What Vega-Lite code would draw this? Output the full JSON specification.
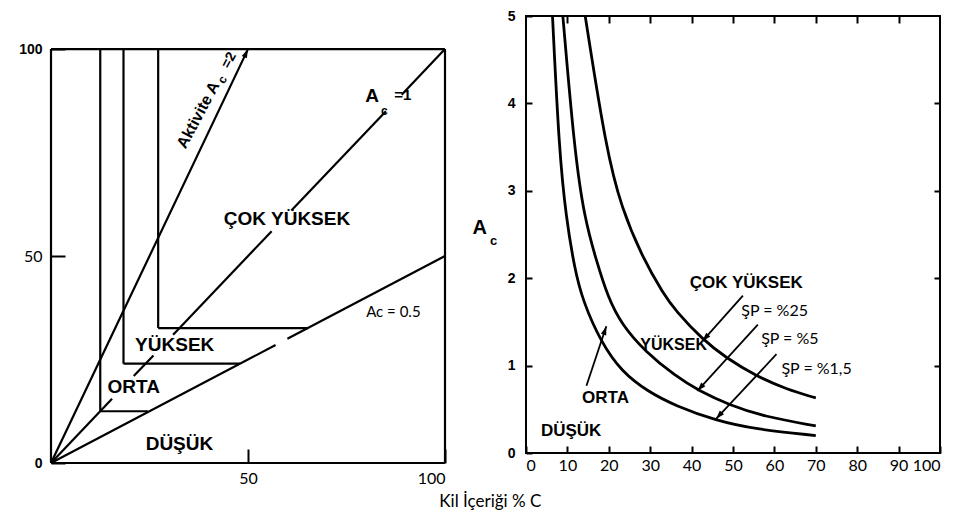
{
  "$schema": "https://vega.github.io/schema/vega-lite/v6.json",
  "padding": {"left": 18, "top": 8, "right": 0, "bottom": 5},
  "bounds": "flush",
  "spacing": 81,
  "title": {"text": "Kil İçeriği % C", "orient": "bottom", "anchor": "middle", "font": "Lato", "fontSize": 17, "fontWeight": "normal", "color": "black", "offset": 8, "dx": 10},
  "config": {
    "font": "Liberation Sans",
    "view": {"stroke": "black", "strokeWidth": 2},
    "axis": {"labelColor": "black", "tickColor": "black", "grid": false, "domain": false, "title": null}
  },
  "datasets": {
    "leftLines": [
      {"x": 0, "y": 0, "x2": 100, "y2": 0},
      {"x": 0, "y": 0, "x2": 0, "y2": 100},
      {"x": 0, "y": 100, "x2": 100, "y2": 100},
      {"x": 100, "y": 0, "x2": 100, "y2": 100},
      {"x": 0, "y": 0, "x2": 50, "y2": 100},
      {"x": 0, "y": 0, "x2": 15.5, "y2": 15.5},
      {"x": 21, "y": 21, "x2": 26, "y2": 26},
      {"x": 31, "y": 31, "x2": 56, "y2": 56},
      {"x": 61, "y": 61, "x2": 85, "y2": 85},
      {"x": 89, "y": 89, "x2": 100, "y2": 100},
      {"x": 0, "y": 0, "x2": 57, "y2": 28.5},
      {"x": 60, "y": 30, "x2": 100, "y2": 50},
      {"x": 12.5, "y": 12.5, "x2": 12.5, "y2": 100},
      {"x": 12.5, "y": 12.5, "x2": 24.6, "y2": 12.5},
      {"x": 18.4, "y": 24, "x2": 18.4, "y2": 100},
      {"x": 18.4, "y": 24, "x2": 48, "y2": 24},
      {"x": 27.2, "y": 32.6, "x2": 27.2, "y2": 100},
      {"x": 27.2, "y": 32.6, "x2": 65.2, "y2": 32.6}
    ],
    "leftArrow": [{"x": 50, "y": 100}],
    "leftZones": [
      {"x": 59.9, "y": 59, "label": "ÇOK YÜKSEK"},
      {"x": 31.4, "y": 28.4, "label": "YÜKSEK"},
      {"x": 21, "y": 18.4, "label": "ORTA"},
      {"x": 32.6, "y": 4.7, "label": "DÜŞÜK"}
    ],
    "leftA": [{"x": 81.5, "y": 88.6, "label": "A"}],
    "leftSubC": [{"x": 84.6, "y": 85, "label": "c"}],
    "leftEq1": [{"x": 89.3, "y": 89, "label": "=1"}],
    "leftAc05": [{"x": 86.9, "y": 36.5, "label": "Ac = 0.5"}],
    "leftAkt": [{"x": 37.4, "y": 84.1, "label": "Aktivite A"}],
    "leftAktC": [{"x": 43.5, "y": 92.6, "label": "c"}],
    "leftAktEq": [{"x": 45.2, "y": 97.3, "label": "=2"}],
    "curves": [
      {"sp": "1,5", "x": 6.4, "y": 5.0},
      {"sp": "1,5", "x": 8.0, "y": 3.46},
      {"sp": "1,5", "x": 9.7, "y": 2.69},
      {"sp": "1,5", "x": 11.7, "y": 2.12},
      {"sp": "1,5", "x": 13.7, "y": 1.74},
      {"sp": "1,5", "x": 18.2, "y": 1.26},
      {"sp": "1,5", "x": 23.1, "y": 0.93},
      {"sp": "1,5", "x": 29.5, "y": 0.7},
      {"sp": "1,5", "x": 36.1, "y": 0.54},
      {"sp": "1,5", "x": 45.9, "y": 0.37},
      {"sp": "1,5", "x": 55.6, "y": 0.27},
      {"sp": "1,5", "x": 70, "y": 0.2},
      {"sp": "5", "x": 8.9, "y": 5.0},
      {"sp": "5", "x": 11.7, "y": 3.46},
      {"sp": "5", "x": 14.1, "y": 2.69},
      {"sp": "5", "x": 17.0, "y": 2.2},
      {"sp": "5", "x": 19.8, "y": 1.78},
      {"sp": "5", "x": 23.1, "y": 1.47},
      {"sp": "5", "x": 28.8, "y": 1.16},
      {"sp": "5", "x": 36.1, "y": 0.88},
      {"sp": "5", "x": 41.8, "y": 0.71},
      {"sp": "5", "x": 49.1, "y": 0.55},
      {"sp": "5", "x": 57.2, "y": 0.42},
      {"sp": "5", "x": 70, "y": 0.31},
      {"sp": "25", "x": 14.3, "y": 5.0},
      {"sp": "25", "x": 19.4, "y": 3.46},
      {"sp": "25", "x": 23.1, "y": 2.8},
      {"sp": "25", "x": 28.0, "y": 2.25},
      {"sp": "25", "x": 33.2, "y": 1.82},
      {"sp": "25", "x": 36.1, "y": 1.63},
      {"sp": "25", "x": 42.6, "y": 1.3},
      {"sp": "25", "x": 48.3, "y": 1.09},
      {"sp": "25", "x": 55.6, "y": 0.88},
      {"sp": "25", "x": 62.9, "y": 0.73},
      {"sp": "25", "x": 70, "y": 0.63}
    ],
    "arrows": [
      {"x": 52.4, "y": 1.8, "x2": 42.6, "y2": 1.28},
      {"x": 56.0, "y": 1.47, "x2": 41.4, "y2": 0.71},
      {"x": 60.5, "y": 1.13, "x2": 45.9, "y2": 0.39},
      {"x": 14.6, "y": 0.77, "x2": 19.4, "y2": 1.45}
    ],
    "headsDL": [{"x": 42.6, "y": 1.28}, {"x": 41.4, "y": 0.71}, {"x": 45.9, "y": 0.39}],
    "headsUR": [{"x": 19.4, "y": 1.45}],
    "rightZones": [
      {"x": 53.2, "y": 1.95, "label": "ÇOK YÜKSEK"},
      {"x": 19.2, "y": 0.63, "label": "ORTA"},
      {"x": 10.9, "y": 0.25, "label": "DÜŞÜK"}
    ],
    "rightYuksek": [{"x": 27.6, "y": 1.24, "label": "YÜKSEK"}],
    "rightSP": [
      {"x": 52, "y": 1.62, "label": "ŞP = %25"},
      {"x": 56.8, "y": 1.3, "label": "ŞP = %5"},
      {"x": 61.7, "y": 0.96, "label": "ŞP = %1,5"}
    ],
    "rightA": [{"x": -11.2, "y": 2.57, "label": "A"}],
    "rightC": [{"x": -7.8, "y": 2.43, "label": "c"}]
  },
  "hconcat": [
    {
      "width": 394,
      "height": 447,
      "view": {"stroke": null},
      "resolve": {"axis": {"x": "independent", "y": "independent"}},
      "layer": [
        {
          "data": {"name": "leftLines"},
          "mark": {"type": "rule", "color": "black", "strokeWidth": 2.2},
          "encoding": {
            "x": {"field": "x", "type": "quantitative", "scale": {"domain": [0, 100], "nice": false},
              "axis": {"orient": "bottom", "values": [50, 100], "tickSize": -14, "tickWidth": 2, "labelFont": "Lato", "labelFontSize": 16, "labelPadding": 21}},
            "y": {"field": "y", "type": "quantitative", "scale": {"domain": [0, 108], "nice": false},
              "axis": {"orient": "left", "values": [0, 50, 100], "tickSize": -14, "tickWidth": 2, "labelPadding": 23,
                "labelFont": {"condition": {"test": "datum.value == 50", "value": "Lato"}, "value": "Liberation Sans"},
                "labelFontSize": {"condition": {"test": "datum.value == 50", "value": 16}, "value": 14},
                "labelFontWeight": {"condition": {"test": "datum.value == 50", "value": "normal"}, "value": "bold"}}},
            "x2": {"field": "x2"},
            "y2": {"field": "y2"}
          }
        },
        {
          "data": {"name": "leftArrow"},
          "mark": {"type": "point", "shape": "M0,0L-0.7,2.2L0.7,2.2Z", "filled": true, "color": "black", "opacity": 1, "size": 64, "angle": 25},
          "encoding": {
            "x": {"field": "x", "type": "quantitative", "axis": null},
            "y": {"field": "y", "type": "quantitative", "axis": null}
          }
        },
        {
          "data": {"name": "leftZones"},
          "mark": {"type": "text", "font": "Liberation Sans", "fontWeight": "bold", "fontSize": 19, "color": "black", "align": "center", "baseline": "middle"},
          "encoding": {
            "x": {"field": "x", "type": "quantitative", "axis": null},
            "y": {"field": "y", "type": "quantitative", "axis": null},
            "text": {"field": "label"}
          }
        },
        {
          "data": {"name": "leftA"},
          "mark": {"type": "text", "font": "Liberation Sans", "fontWeight": "bold", "fontSize": 19, "color": "black", "align": "center", "baseline": "middle"},
          "encoding": {
            "x": {"field": "x", "type": "quantitative", "axis": null},
            "y": {"field": "y", "type": "quantitative", "axis": null},
            "text": {"field": "label"}
          }
        },
        {
          "data": {"name": "leftSubC"},
          "mark": {"type": "text", "font": "Liberation Sans", "fontWeight": "bold", "fontSize": 12, "color": "black", "align": "center", "baseline": "middle"},
          "encoding": {
            "x": {"field": "x", "type": "quantitative", "axis": null},
            "y": {"field": "y", "type": "quantitative", "axis": null},
            "text": {"field": "label"}
          }
        },
        {
          "data": {"name": "leftEq1"},
          "mark": {"type": "text", "font": "Liberation Sans", "fontWeight": "bold", "fontSize": 15, "color": "black", "align": "center", "baseline": "middle"},
          "encoding": {
            "x": {"field": "x", "type": "quantitative", "axis": null},
            "y": {"field": "y", "type": "quantitative", "axis": null},
            "text": {"field": "label"}
          }
        },
        {
          "data": {"name": "leftAc05"},
          "mark": {"type": "text", "font": "Lato", "fontSize": 15, "color": "black", "align": "center", "baseline": "middle"},
          "encoding": {
            "x": {"field": "x", "type": "quantitative", "axis": null},
            "y": {"field": "y", "type": "quantitative", "axis": null},
            "text": {"field": "label"}
          }
        },
        {
          "data": {"name": "leftAkt"},
          "mark": {"type": "text", "font": "Liberation Sans", "fontWeight": "bold", "fontSize": 16, "color": "black", "align": "center", "baseline": "middle", "angle": -62},
          "encoding": {
            "x": {"field": "x", "type": "quantitative", "axis": null},
            "y": {"field": "y", "type": "quantitative", "axis": null},
            "text": {"field": "label"}
          }
        },
        {
          "data": {"name": "leftAktC"},
          "mark": {"type": "text", "font": "Liberation Sans", "fontWeight": "bold", "fontSize": 12, "color": "black", "align": "center", "baseline": "middle", "angle": -62},
          "encoding": {
            "x": {"field": "x", "type": "quantitative", "axis": null},
            "y": {"field": "y", "type": "quantitative", "axis": null},
            "text": {"field": "label"}
          }
        },
        {
          "data": {"name": "leftAktEq"},
          "mark": {"type": "text", "font": "Liberation Sans", "fontWeight": "bold", "fontSize": 14, "color": "black", "align": "center", "baseline": "middle", "angle": -62},
          "encoding": {
            "x": {"field": "x", "type": "quantitative", "axis": null},
            "y": {"field": "y", "type": "quantitative", "axis": null},
            "text": {"field": "label"}
          }
        }
      ]
    },
    {
      "width": 414,
      "height": 437,
      "resolve": {"axis": {"x": "independent", "y": "independent"}},
      "layer": [
        {
          "data": {"name": "curves"},
          "mark": {"type": "line", "color": "black", "strokeWidth": 2.8, "interpolate": "basis"},
          "encoding": {
            "x": {"field": "x", "type": "quantitative", "scale": {"domain": [0, 100], "nice": false},
              "axis": {"orient": "bottom", "values": [0, 10, 20, 30, 40, 50, 60, 70, 80, 90, 100], "tickSize": -7, "tickWidth": 2, "labelFont": "Lato", "labelFontSize": 16, "labelPadding": 11}},
            "y": {"field": "y", "type": "quantitative", "scale": {"domain": [0, 5], "nice": false},
              "axis": {"orient": "left", "values": [0, 1, 2, 3, 4, 5], "tickSize": -6, "tickWidth": 2, "labelFont": "Liberation Sans", "labelFontWeight": "bold", "labelFontSize": 14, "labelPadding": 17}},
            "detail": {"field": "sp"}
          }
        },
        {
          "data": {"name": "arrows"},
          "mark": {"type": "rule", "color": "black", "strokeWidth": 1.8},
          "encoding": {
            "x": {"field": "x", "type": "quantitative",
              "axis": {"orient": "top", "values": [10, 20, 30, 40, 50, 60, 70, 80, 90], "tickSize": -7, "tickWidth": 2, "labels": false}},
            "y": {"field": "y", "type": "quantitative",
              "axis": {"orient": "right", "values": [1, 2, 3, 4], "tickSize": -6, "tickWidth": 2, "labels": false}},
            "x2": {"field": "x2"},
            "y2": {"field": "y2"}
          }
        },
        {
          "data": {"name": "headsDL"},
          "mark": {"type": "point", "shape": "M0,0L-0.7,2.2L0.7,2.2Z", "filled": true, "color": "black", "opacity": 1, "size": 64, "angle": 222},
          "encoding": {
            "x": {"field": "x", "type": "quantitative", "axis": null},
            "y": {"field": "y", "type": "quantitative", "axis": null}
          }
        },
        {
          "data": {"name": "headsUR"},
          "mark": {"type": "point", "shape": "M0,0L-0.7,2.2L0.7,2.2Z", "filled": true, "color": "black", "opacity": 1, "size": 64, "angle": 18},
          "encoding": {
            "x": {"field": "x", "type": "quantitative", "axis": null},
            "y": {"field": "y", "type": "quantitative", "axis": null}
          }
        },
        {
          "data": {"name": "rightZones"},
          "mark": {"type": "text", "font": "Liberation Sans", "fontWeight": "bold", "fontSize": 17, "color": "black", "align": "center", "baseline": "middle"},
          "encoding": {
            "x": {"field": "x", "type": "quantitative", "axis": null},
            "y": {"field": "y", "type": "quantitative", "axis": null},
            "text": {"field": "label"}
          }
        },
        {
          "data": {"name": "rightYuksek"},
          "mark": {"type": "text", "font": "Liberation Sans", "fontWeight": "bold", "fontSize": 16, "color": "black", "align": "left", "baseline": "middle"},
          "encoding": {
            "x": {"field": "x", "type": "quantitative", "axis": null},
            "y": {"field": "y", "type": "quantitative", "axis": null},
            "text": {"field": "label"}
          }
        },
        {
          "data": {"name": "rightSP"},
          "mark": {"type": "text", "font": "Lato", "fontSize": 16, "color": "black", "align": "left", "baseline": "middle"},
          "encoding": {
            "x": {"field": "x", "type": "quantitative", "axis": null},
            "y": {"field": "y", "type": "quantitative", "axis": null},
            "text": {"field": "label"}
          }
        },
        {
          "data": {"name": "rightA"},
          "mark": {"type": "text", "font": "Liberation Sans", "fontWeight": "bold", "fontSize": 20, "color": "black", "align": "center", "baseline": "middle"},
          "encoding": {
            "x": {"field": "x", "type": "quantitative", "axis": null},
            "y": {"field": "y", "type": "quantitative", "axis": null},
            "text": {"field": "label"}
          }
        },
        {
          "data": {"name": "rightC"},
          "mark": {"type": "text", "font": "Liberation Sans", "fontWeight": "bold", "fontSize": 13, "color": "black", "align": "center", "baseline": "middle"},
          "encoding": {
            "x": {"field": "x", "type": "quantitative", "axis": null},
            "y": {"field": "y", "type": "quantitative", "axis": null},
            "text": {"field": "label"}
          }
        }
      ]
    }
  ]
}
